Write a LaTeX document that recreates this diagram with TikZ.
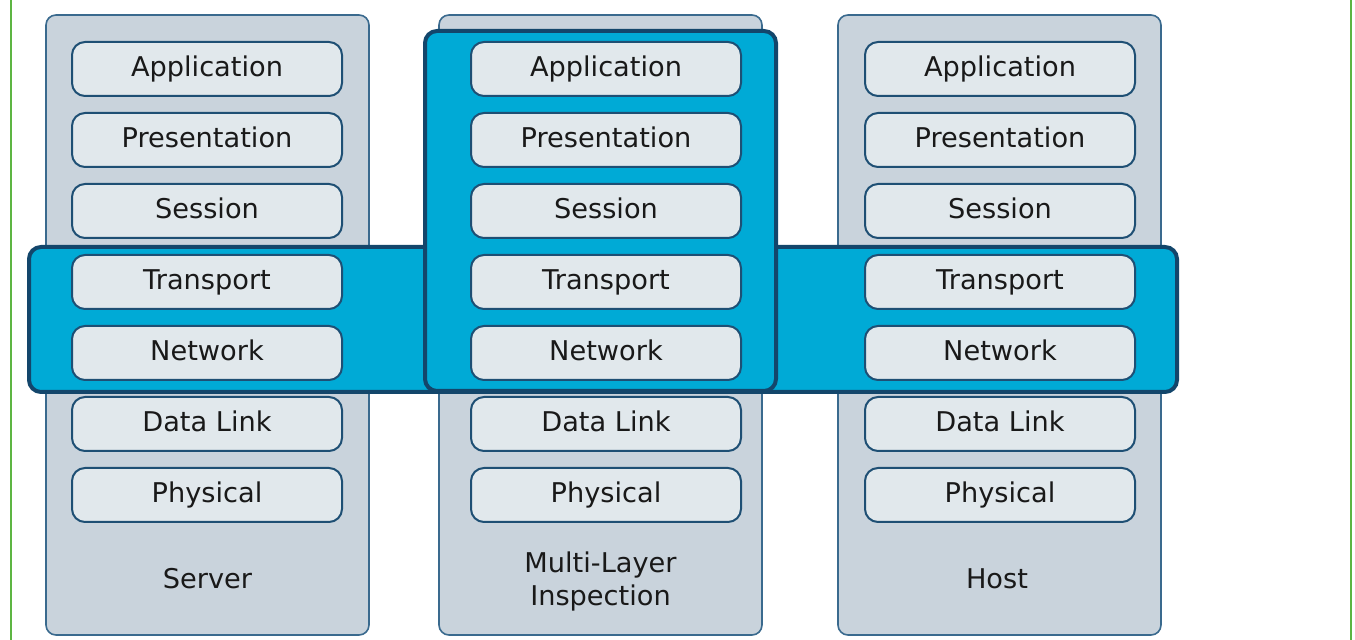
\documentclass[tikz,border=0pt]{standalone}
\usepackage{fontspec}
\setmainfont{DejaVu Sans}

\definecolor{frameline}{HTML}{5DB543}
\definecolor{colfill}{HTML}{C9D3DC}
\definecolor{colline}{HTML}{3A6A8E}
\definecolor{layfill}{HTML}{E1E8EC}
\definecolor{layline}{HTML}{1E4F74}
\definecolor{hifill}{HTML}{00AAD6}
\definecolor{hiline}{HTML}{13466B}

\tikzset{
    stack/.style={draw=colline, fill=colfill, line width=0.8pt, rounded corners=5pt},
    inspect/.style={draw=hiline, fill=hifill, line width=2pt, rounded corners=6pt},
    layer/.style={draw=layline, fill=layfill, line width=1pt, rounded corners=6.5pt,
        minimum width=135pt, minimum height=27pt, inner sep=0pt,
        text height=10pt, text depth=2pt,
        text=black!90, font=\fontsize{13.6}{16.5}\selectfont},
    caption/.style={align=center, inner sep=0pt, text=black!90,
        font=\fontsize{13.6}{16.5}\selectfont}
}

\begin{document}
\begin{tikzpicture}[x=0.5pt,y=-0.5pt]
            \useasboundingbox (0,0) rectangle (1355,640);
            % frame lines
            \draw[frameline, line width=0.8pt] (11,0) -- (11,640);
            \draw[frameline, line width=0.8pt] (1351,0) -- (1351,640);
            % stacks
            \draw[stack] (46,15) rectangle (369,635);
            \draw[stack] (439,15) rectangle (762,635);
            \draw[stack] (838,15) rectangle (1161,635);
            % inspected layers
            \draw[inspect] (29,247) rectangle (1177,392);
            \draw[inspect] (425,31) rectangle (776,391);
            % server
            \node[layer] at (207,69) (sapp) {Application};
            \node[layer] at (207,140) (spre) {Presentation};
            \node[layer] at (207,211) (sses) {Session};
            \node[layer] at (207,282) (stra) {Transport};
            \node[layer] at (207,353) (snet) {Network};
            \node[layer] at (207,424) (sdat) {Data Link};
            \node[layer] at (207,495) (sphy) {Physical};
            \node[caption] at (207.5,579) (server) {Server};
            % multi-layer inspection
            \node[layer] at (606,69) (mapp) {Application};
            \node[layer] at (606,140) (mpre) {Presentation};
            \node[layer] at (606,211) (mses) {Session};
            \node[layer] at (606,282) (mtra) {Transport};
            \node[layer] at (606,353) (mnet) {Network};
            \node[layer] at (606,424) (mdat) {Data Link};
            \node[layer] at (606,495) (mphy) {Physical};
            \node[caption] at (600.5,581) (mli) {Multi-Layer\\Inspection};
            % host
            \node[layer] at (1000,69) (happ) {Application};
            \node[layer] at (1000,140) (hpre) {Presentation};
            \node[layer] at (1000,211) (hses) {Session};
            \node[layer] at (1000,282) (htra) {Transport};
            \node[layer] at (1000,353) (hnet) {Network};
            \node[layer] at (1000,424) (hdat) {Data Link};
            \node[layer] at (1000,495) (hphy) {Physical};
            \node[caption] at (997,579) (host) {Host};
        \end{tikzpicture}
\end{document}
